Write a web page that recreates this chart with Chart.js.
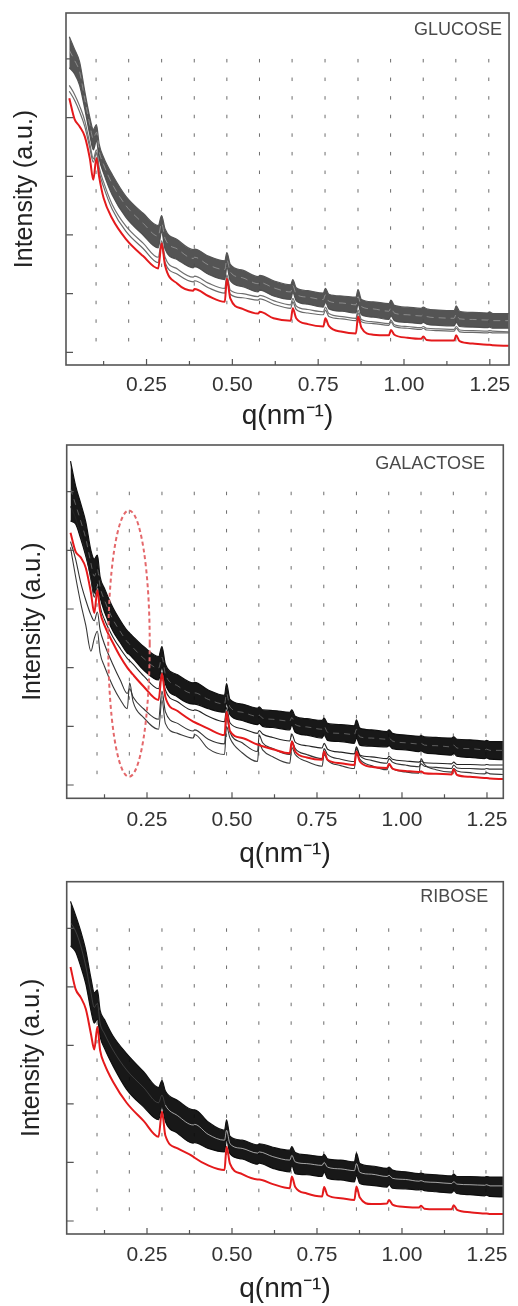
<!DOCTYPE html>
<html><head><meta charset="utf-8">
<script src="https://cdn.jsdelivr.net/npm/chart.js@4.4.0/dist/chart.umd.min.js"></script>
<style>
html,body{margin:0;padding:0;background:#fff;}
body{width:518px;height:1306px;overflow:hidden;position:relative;}
.panel{position:absolute;left:0;width:518px;}
canvas{display:block;}
</style></head><body>
<div class="panel" style="top:0;height:435px"><canvas id="c1" width="518" height="435"></canvas></div>
<div class="panel" style="top:435px;height:435px"><canvas id="c2" width="518" height="435"></canvas></div>
<div class="panel" style="top:870px;height:436px"><canvas id="c3" width="518" height="436"></canvas></div>
<script>
// ---------- DATA ----------
const X_TICKS = [0.25, 0.5, 0.75, 1.0, 1.25];
const X_TICK_LABELS = ['0.25', '0.50', '0.75', '1.00', '1.25'];
const X_MINOR = [0.125, 0.375, 0.625, 0.875, 1.125];
const Y_TICKS = [0, 1, 2, 3, 4, 5];
const X_TITLE = 'q(nm\u207B\u00B9)';
const Y_TITLE = 'Intensity (a.u.)';
const PANEL_LABELS = ['GLUCOSE', 'GALACTOSE', 'RIBOSE'];
const PEAK_Q = [0.103, 0.198, 0.294, 0.389, 0.484, 0.579, 0.674, 0.770, 0.866, 0.961, 1.056, 1.151, 1.247];
const DOT_SPAN = [0, 5];
const ELLIPSE = {q: 0.197, v: 2.41, rq: 0.061, rv: 2.27};

const Q_GLU = [0.025, 0.04, 0.055, 0.07, 0.085, 0.095, 0.104, 0.112, 0.125, 0.15, 0.19, 0.24,
  0.284, 0.294, 0.304, 0.34, 0.386, 0.39, 0.43, 0.478, 0.484, 0.494, 0.53, 0.575,
  0.58, 0.62, 0.67, 0.676, 0.686, 0.72, 0.765, 0.771, 0.781, 0.82, 0.86, 0.866,
  0.876, 0.91, 0.956, 0.962, 0.972, 1.01, 1.05, 1.056, 1.066, 1.1, 1.146, 1.152,
  1.162, 1.2, 1.243, 1.249, 1.259, 1.305];
const GLU_TOP = [5.38, 5.17, 4.95, 4.45, 4.00, 3.80, 3.88, 3.55, 3.32, 3.03, 2.66, 2.37,
  2.16, 2.33, 2.10, 1.92, 1.75, 1.76, 1.64, 1.56, 1.70, 1.50, 1.40, 1.29,
  1.31, 1.22, 1.15, 1.24, 1.10, 1.05, 1.01, 1.09, 0.99, 0.96, 0.94, 1.07,
  0.90, 0.86, 0.83, 0.89, 0.80, 0.77, 0.75, 0.77, 0.74, 0.72, 0.71, 0.79,
  0.70, 0.68, 0.67, 0.69, 0.66, 0.66];
const GLU_MID = [5.15, 4.98, 4.78, 4.32, 3.87, 3.64, 3.75, 3.43, 3.20, 2.87, 2.50, 2.20,
  1.98, 2.20, 1.94, 1.76, 1.60, 1.62, 1.49, 1.41, 1.58, 1.37, 1.27, 1.17,
  1.19, 1.10, 1.03, 1.14, 0.99, 0.94, 0.90, 0.98, 0.87, 0.84, 0.81, 0.95,
  0.78, 0.74, 0.70, 0.76, 0.67, 0.64, 0.62, 0.64, 0.61, 0.59, 0.58, 0.65,
  0.57, 0.56, 0.55, 0.56, 0.54, 0.54];
const GLU_BOT = [4.85, 4.75, 4.55, 4.15, 3.70, 3.45, 3.60, 3.30, 3.05, 2.68, 2.30, 2.00,
  1.78, 2.05, 1.76, 1.58, 1.44, 1.46, 1.33, 1.24, 1.45, 1.22, 1.12, 1.03,
  1.06, 0.96, 0.90, 1.02, 0.88, 0.82, 0.77, 0.86, 0.74, 0.70, 0.67, 0.82,
  0.64, 0.60, 0.56, 0.62, 0.54, 0.51, 0.49, 0.51, 0.48, 0.46, 0.45, 0.51,
  0.44, 0.43, 0.42, 0.43, 0.41, 0.41];
const GLU_OUT1 = [4.55, 4.40, 4.20, 3.95, 3.55, 3.30, 3.45, 3.15, 2.90, 2.52, 2.15, 1.86,
  1.62, 1.90, 1.62, 1.42, 1.28, 1.30, 1.18, 1.09, 1.32, 1.06, 1.00, 0.95,
  0.97, 0.88, 0.81, 0.92, 0.79, 0.73, 0.69, 0.77, 0.66, 0.61, 0.58, 0.72,
  0.56, 0.52, 0.49, 0.55, 0.47, 0.44, 0.42, 0.44, 0.41, 0.40, 0.39, 0.44,
  0.38, 0.37, 0.36, 0.37, 0.36, 0.35];
const GLU_OUT2 = [4.45, 4.30, 4.10, 3.85, 3.48, 3.24, 3.40, 3.08, 2.82, 2.44, 2.06, 1.77,
  1.53, 1.82, 1.53, 1.33, 1.20, 1.22, 1.10, 1.01, 1.25, 0.99, 0.93, 0.89,
  0.91, 0.82, 0.75, 0.86, 0.73, 0.67, 0.64, 0.72, 0.61, 0.57, 0.54, 0.67,
  0.52, 0.49, 0.46, 0.52, 0.44, 0.41, 0.39, 0.41, 0.38, 0.37, 0.36, 0.41,
  0.35, 0.34, 0.33, 0.34, 0.33, 0.33];
const GLU_RED = [4.33, 3.98, 3.85, 3.68, 3.30, 2.94, 3.31, 2.99, 2.63, 2.28, 1.93, 1.64,
  1.43, 1.86, 1.48, 1.17, 1.05, 1.08, 0.96, 0.86, 1.26, 0.92, 0.74, 0.66,
  0.69, 0.58, 0.54, 0.75, 0.58, 0.48, 0.44, 0.58, 0.45, 0.35, 0.32, 0.61,
  0.42, 0.30, 0.29, 0.38, 0.30, 0.25, 0.23, 0.27, 0.21, 0.20, 0.20, 0.29,
  0.19, 0.15, 0.13, 0.13, 0.12, 0.11];

const Q_GAL = [0.025, 0.04, 0.055, 0.07, 0.085, 0.095, 0.104, 0.112, 0.125, 0.15, 0.172, 0.192,
  0.199, 0.209, 0.24, 0.284, 0.294, 0.304, 0.34, 0.386, 0.39, 0.43, 0.478, 0.484,
  0.494, 0.53, 0.575, 0.58, 0.59, 0.62, 0.67, 0.676, 0.686, 0.72, 0.765, 0.771,
  0.781, 0.82, 0.86, 0.866, 0.876, 0.91, 0.956, 0.962, 0.972, 1.01, 1.05, 1.056,
  1.066, 1.1, 1.146, 1.152, 1.162, 1.2, 1.243, 1.249, 1.259, 1.298];
const GAL_TOP = [5.52, 5.10, 4.80, 4.48, 4.00, 3.85, 3.92, 3.55, 3.35, 3.02, 2.80, 2.63,
  2.59, 2.53, 2.36, 2.19, 2.36, 2.06, 1.88, 1.74, 1.75, 1.62, 1.53, 1.73,
  1.46, 1.38, 1.31, 1.33, 1.28, 1.27, 1.24, 1.28, 1.17, 1.13, 1.10, 1.14,
  1.05, 1.03, 1.01, 1.11, 0.97, 0.94, 0.91, 0.94, 0.88, 0.85, 0.83, 0.84,
  0.82, 0.81, 0.80, 0.82, 0.78, 0.77, 0.75, 0.76, 0.74, 0.74];
const GAL_MID = [5.05, 4.78, 4.50, 4.20, 3.78, 3.56, 3.68, 3.38, 3.15, 2.82, 2.61, 2.44,
  2.40, 2.34, 2.16, 1.99, 2.18, 1.89, 1.69, 1.56, 1.57, 1.46, 1.38, 1.56,
  1.33, 1.24, 1.17, 1.19, 1.14, 1.12, 1.09, 1.15, 1.03, 0.99, 0.95, 1.00,
  0.90, 0.88, 0.86, 0.95, 0.82, 0.80, 0.78, 0.80, 0.75, 0.72, 0.70, 0.71,
  0.68, 0.67, 0.65, 0.68, 0.63, 0.62, 0.60, 0.61, 0.59, 0.59];
const GAL_BOT = [4.50, 4.45, 4.20, 3.90, 3.55, 3.27, 3.45, 3.20, 2.95, 2.62, 2.42, 2.25,
  2.22, 2.16, 1.96, 1.79, 2.00, 1.72, 1.50, 1.38, 1.38, 1.30, 1.24, 1.40,
  1.20, 1.10, 1.03, 1.05, 1.00, 0.98, 0.94, 1.02, 0.90, 0.85, 0.80, 0.86,
  0.76, 0.74, 0.71, 0.80, 0.68, 0.66, 0.65, 0.67, 0.62, 0.60, 0.57, 0.58,
  0.55, 0.53, 0.51, 0.54, 0.49, 0.47, 0.45, 0.46, 0.44, 0.43];
const GAL_L3 = [4.75, 4.55, 4.25, 3.95, 3.50, 3.20, 3.38, 3.05, 2.82, 2.52, 2.32, 2.16,
  2.12, 2.06, 1.86, 1.64, 1.92, 1.62, 1.42, 1.27, 1.28, 1.17, 1.08, 1.32,
  1.06, 0.96, 0.88, 0.93, 0.87, 0.81, 0.75, 0.87, 0.73, 0.67, 0.63, 0.71,
  0.61, 0.56, 0.53, 0.65, 0.51, 0.48, 0.45, 0.49, 0.44, 0.41, 0.39, 0.41,
  0.38, 0.37, 0.36, 0.39, 0.35, 0.35, 0.34, 0.35, 0.34, 0.34];
const GAL_L2 = [4.15, 3.85, 3.45, 3.15, 2.90, 2.80, 2.95, 2.65, 2.40, 2.05, 1.78, 1.56,
  1.64, 1.50, 1.30, 1.12, 1.60, 1.25, 1.05, 0.92, 0.94, 0.78, 0.70, 1.15,
  0.90, 0.72, 0.57, 0.85, 0.72, 0.62, 0.52, 0.75, 0.62, 0.52, 0.45, 0.62,
  0.52, 0.44, 0.40, 0.62, 0.50, 0.42, 0.37, 0.45, 0.39, 0.34, 0.31, 0.36,
  0.32, 0.30, 0.28, 0.34, 0.29, 0.28, 0.27, 0.28, 0.27, 0.27];
const GAL_L1 = [4.05, 3.55, 3.10, 2.72, 2.28, 2.50, 2.62, 2.25, 2.02, 1.68, 1.45, 1.30,
  1.74, 1.42, 1.15, 0.95, 1.45, 1.05, 0.88, 0.80, 0.86, 0.62, 0.52, 1.00,
  0.80, 0.55, 0.40, 0.71, 0.60, 0.48, 0.37, 0.64, 0.52, 0.40, 0.32, 0.52,
  0.42, 0.33, 0.28, 0.57, 0.44, 0.33, 0.26, 0.34, 0.28, 0.22, 0.20, 0.45,
  0.35, 0.26, 0.22, 0.28, 0.24, 0.21, 0.19, 0.21, 0.19, 0.18];
const GAL_RED = [4.30, 3.98, 3.88, 3.70, 3.28, 2.93, 3.32, 2.96, 2.72, 2.42, 2.18, 2.00,
  1.95, 1.88, 1.68, 1.45, 1.90, 1.50, 1.26, 1.08, 1.07, 0.96, 0.85, 1.25,
  0.92, 0.80, 0.69, 0.68, 0.66, 0.61, 0.54, 0.74, 0.57, 0.47, 0.43, 0.57,
  0.43, 0.37, 0.34, 0.57, 0.40, 0.31, 0.29, 0.36, 0.28, 0.24, 0.22, 0.23,
  0.20, 0.19, 0.18, 0.27, 0.17, 0.14, 0.12, 0.12, 0.11, 0.10];

const Q_RIB = [0.025, 0.04, 0.055, 0.07, 0.085, 0.095, 0.104, 0.112, 0.125, 0.15, 0.19, 0.24,
  0.284, 0.294, 0.304, 0.34, 0.386, 0.39, 0.43, 0.478, 0.484, 0.494, 0.53, 0.575,
  0.58, 0.62, 0.67, 0.676, 0.686, 0.72, 0.765, 0.771, 0.781, 0.82, 0.86, 0.866,
  0.876, 0.91, 0.956, 0.962, 0.972, 1.01, 1.05, 1.056, 1.066, 1.1, 1.146, 1.152,
  1.162, 1.2, 1.243, 1.249, 1.259, 1.298];
const RIB_TOP = [5.46, 5.22, 4.95, 4.62, 4.15, 3.90, 3.95, 3.60, 3.44, 3.16, 2.86, 2.55,
  2.28, 2.40, 2.22, 2.06, 1.90, 1.90, 1.69, 1.55, 1.73, 1.45, 1.38, 1.30,
  1.32, 1.26, 1.21, 1.27, 1.17, 1.13, 1.10, 1.14, 1.06, 1.04, 1.01, 1.16,
  0.98, 0.94, 0.90, 0.92, 0.87, 0.84, 0.81, 0.82, 0.80, 0.79, 0.77, 0.80,
  0.76, 0.76, 0.75, 0.76, 0.75, 0.75];
const RIB_GAP = [5.10, 4.95, 4.70, 4.35, 3.90, 3.65, 3.72, 3.38, 3.20, 2.92, 2.58, 2.28,
  2.02, 2.15, 1.98, 1.80, 1.64, 1.65, 1.48, 1.38, 1.55, 1.32, 1.24, 1.16,
  1.18, 1.10, 1.04, 1.12, 1.01, 0.98, 0.95, 1.00, 0.92, 0.89, 0.86, 0.98,
  0.83, 0.80, 0.76, 0.78, 0.73, 0.71, 0.68, 0.69, 0.67, 0.66, 0.64, 0.67,
  0.63, 0.62, 0.61, 0.62, 0.60, 0.60];
const RIB_BOT = [4.70, 4.60, 4.35, 4.05, 3.60, 3.38, 3.45, 3.15, 2.95, 2.65, 2.25, 1.95,
  1.73, 1.95, 1.70, 1.50, 1.33, 1.34, 1.24, 1.18, 1.40, 1.15, 1.06, 0.97,
  0.99, 0.90, 0.84, 0.95, 0.81, 0.79, 0.76, 0.84, 0.73, 0.70, 0.67, 0.78,
  0.64, 0.61, 0.58, 0.62, 0.56, 0.55, 0.53, 0.54, 0.52, 0.50, 0.48, 0.52,
  0.47, 0.45, 0.43, 0.44, 0.42, 0.41];
const RIB_RED = [4.34, 3.96, 3.82, 3.62, 3.20, 2.93, 3.32, 2.92, 2.68, 2.38, 2.02, 1.71,
  1.44, 1.87, 1.46, 1.24, 1.10, 1.08, 0.95, 0.87, 1.27, 0.98, 0.80, 0.71,
  0.71, 0.63, 0.56, 0.76, 0.58, 0.47, 0.42, 0.58, 0.44, 0.39, 0.36, 0.59,
  0.40, 0.29, 0.30, 0.36, 0.28, 0.24, 0.23, 0.26, 0.21, 0.20, 0.20, 0.27,
  0.19, 0.15, 0.13, 0.13, 0.12, 0.12];

// ---------- RENDERING ----------
Chart.defaults.font.family = '"Liberation Sans", Arial, Helvetica, sans-serif';
const pts = (qs, vs) => qs.map((q, i) => ({x: q, y: vs[i]}));

function curve(qs, vs, color, width, order, extra) {
  return Object.assign({data: pts(qs, vs), borderColor: color, borderWidth: width,
    pointRadius: 0, fill: false, tension: 0, cubicInterpolationMode: 'monotone', order: order}, extra || {});
}
function dotted(q) {
  return {data: [{x: q, y: DOT_SPAN[1]}, {x: q, y: DOT_SPAN[0]}], borderColor: 'rgba(60,60,60,0.75)',
    borderWidth: 1, borderDash: [3.5, 15.1], pointRadius: 0, fill: false, order: 50};
}

const framePlugin = {
  id: 'frame',
  afterDatasetsDraw(chart, args, o) {
    const {ctx, chartArea: a, scales: {x, y}} = chart;
    ctx.save();
    if (o.ellipse) {
      const e = o.ellipse;
      const cx = x.getPixelForValue(e.q), cy = y.getPixelForValue(e.v);
      const rx = Math.abs(x.getPixelForValue(e.q + e.rq) - cx);
      const ry = Math.abs(y.getPixelForValue(e.v + e.rv) - cy);
      ctx.beginPath();
      ctx.setLineDash([4, 3]);
      ctx.strokeStyle = '#e4686b';
      ctx.lineWidth = 2;
      ctx.ellipse(cx, cy, rx, ry, 0, 0, Math.PI * 2);
      ctx.stroke();
      ctx.setLineDash([]);
    }
    ctx.strokeStyle = '#555';
    ctx.lineWidth = 1.6;
    ctx.strokeRect(a.left, a.top, a.right - a.left, a.bottom - a.top);
    ctx.lineWidth = 1.2;
    ctx.beginPath();
    X_TICKS.forEach(v => { const p = x.getPixelForValue(v); ctx.moveTo(p, a.bottom); ctx.lineTo(p, a.bottom - 6); });
    X_MINOR.forEach(v => { const p = x.getPixelForValue(v); ctx.moveTo(p, a.bottom); ctx.lineTo(p, a.bottom - 4); });
    Y_TICKS.forEach(v => { const p = y.getPixelForValue(v); ctx.moveTo(a.left, p); ctx.lineTo(a.left + 7, p); });
    ctx.stroke();
    ctx.font = '18px "Liberation Sans", Arial, sans-serif';
    ctx.fillStyle = '#4a4a4a';
    ctx.textAlign = 'right';
    ctx.textBaseline = 'middle';
    ctx.fillText(o.label, a.right - o.lx, a.top + o.ly);
    ctx.restore();
  }
};

function makeChart(id, P) {
  const L = P.layout;
  const datasets = P.curves.slice();
  PEAK_Q.forEach(q => datasets.push(dotted(q)));
  new Chart(document.getElementById(id), {
    type: 'line',
    data: {datasets},
    options: {
      responsive: false, animation: false, devicePixelRatio: 1, events: [],
      layout: {padding: {top: L.top, right: L.right, left: 0, bottom: 0}},
      plugins: {legend: {display: false}, tooltip: {enabled: false},
        frame: {label: P.label, lx: L.lx, ly: L.ly, ellipse: P.ellipse}},
      scales: {
        x: {type: 'linear', min: P.xMin, max: P.xMax,
          afterFit: s => { s.height = L.canvasH - L.top - L.plotH; },
          afterBuildTicks: s => { s.ticks = X_TICKS.map(v => ({value: v})); },
          grid: {display: false, drawTicks: false}, border: {display: false},
          ticks: {autoSkip: false, maxRotation: 0, padding: L.tickGap - 12.6, color: '#333',
            font: {size: 21}, callback: v => { const i = X_TICKS.indexOf(v); return i >= 0 ? X_TICK_LABELS[i] : ''; }},
          title: {display: true, text: X_TITLE, color: '#222', font: {size: 28},
            padding: {top: 0, bottom: L.canvasH - (L.top + L.plotH + L.titleGap) - 16.8}}},
        y: {type: 'linear', min: P.yMin, max: P.yMax,
          afterFit: s => { s.width = L.left; },
          afterBuildTicks: s => { s.ticks = Y_TICKS.map(v => ({value: v})); },
          grid: {display: false, drawTicks: false}, border: {display: false},
          ticks: {display: false},
          title: {display: true, text: Y_TITLE, color: '#222', font: {size: 25},
            padding: {top: L.yTitleX - 15, bottom: 0}}}
      }
    },
    plugins: [framePlugin]
  });
}

const RED = '#e41a1c';
makeChart('c1', {
  label: PANEL_LABELS[0], xMin: 0.0154, xMax: 1.306, yMin: -0.216, yMax: 5.783,
  layout: {top: 13, right: 8, left: 66, plotH: 352, canvasH: 435, tickGap: 20, titleGap: 51, yTitleX: 25, lx: 7, ly: 17},
  curves: [
    curve(Q_GLU, GLU_RED, RED, 2, 0),
    curve(Q_GLU, GLU_MID, 'rgba(200,200,200,0.6)', 0.8, 1, {borderDash: [7, 5]}),
    curve(Q_GLU, GLU_OUT1, '#707070', 1.2, 2),
    curve(Q_GLU, GLU_OUT2, '#6a6a6a', 1.2, 2),
    curve(Q_GLU, GLU_TOP, '#555', 1.2, 4, {fill: '+1', backgroundColor: 'rgba(75,75,75,0.95)'}),
    curve(Q_GLU, GLU_BOT, '#555', 1.2, 4)
  ]
});
makeChart('c2', {
  label: PANEL_LABELS[1], xMin: 0.0138, xMax: 1.298, yMin: -0.227, yMax: 5.796, ellipse: ELLIPSE,
  layout: {top: 10, right: 14.7, left: 66.7, plotH: 353.3, canvasH: 435, tickGap: 21.7, titleGap: 55.7, yTitleX: 33, lx: 18.3, ly: 19.5},
  curves: [
    curve(Q_GAL, GAL_RED, RED, 2, 0),
    curve(Q_GAL, GAL_MID, 'rgba(170,170,170,0.6)', 0.8, 1, {borderDash: [6, 5]}),
    curve(Q_GAL, GAL_L3, '#222', 1.1, 2),
    curve(Q_GAL, GAL_L2, '#333', 1.1, 2),
    curve(Q_GAL, GAL_L1, '#3a3a3a', 1.1, 2),
    curve(Q_GAL, GAL_TOP, '#111', 1.2, 4, {fill: '+1', backgroundColor: 'rgba(12,12,12,0.95)'}),
    curve(Q_GAL, GAL_BOT, '#111', 1.2, 4)
  ]
});
makeChart('c3', {
  label: PANEL_LABELS[2], xMin: 0.0138, xMax: 1.298, yMin: -0.222, yMax: 5.796,
  layout: {top: 11.7, right: 14.7, left: 66.7, plotH: 352.3, canvasH: 436, tickGap: 21, titleGap: 55, yTitleX: 32, lx: 15, ly: 15},
  curves: [
    curve(Q_RIB, RIB_RED, RED, 2, 0),
    curve(Q_RIB, RIB_GAP, 'rgba(235,235,235,0.7)', 0.9, 1,
      {segment: {borderColor: c => c.p0.parsed.x < 0.3 ? 'rgba(150,150,150,0.35)' : 'rgba(235,235,235,0.75)'}}),
    curve(Q_RIB, RIB_TOP, '#111', 1.2, 4, {fill: '+1', backgroundColor: 'rgba(12,12,12,0.95)'}),
    curve(Q_RIB, RIB_BOT, '#111', 1.2, 4)
  ]
});
</script>
</body></html>
